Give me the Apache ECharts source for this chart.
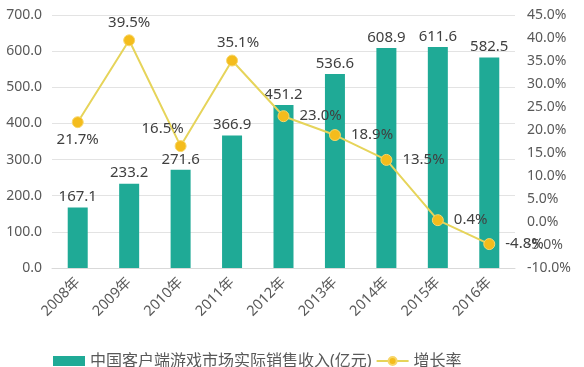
<!DOCTYPE html>
<html><head><meta charset="utf-8">
<script src="https://cdn.jsdelivr.net/npm/echarts@6/dist/echarts.min.js"></script>
<style>html,body{margin:0;padding:0;background:#fff}#c{width:584px;height:367px}</style>
</head><body><div id="c"></div>
<script>
const categories = ['2008年','2009年','2010年','2011年','2012年','2013年','2014年','2015年','2016年'];
const revenue = [167.1, 233.2, 271.6, 366.9, 451.2, 536.6, 608.9, 611.6, 582.5];
const growth = [21.7, 39.5, 16.5, 35.1, 23.0, 18.9, 13.5, 0.4, -4.8];
const growthLabelPos = ['bottom','top','top','top','right','right','right','right','right'];
const seriesNames = ['中国客户端游戏市场实际销售收入(亿元)', '增长率'];

const FONT = '"Noto Sans", "Noto Sans CJK SC", sans-serif';
const chart = echarts.init(document.getElementById('c'));
chart.setOption({
  animation: false,
  textStyle: {fontFamily: FONT},
  grid: {left: 52, right: 69, top: 15, bottom: 99},
  legend: {
    bottom: -7, left: 48, itemGap: 4, itemWidth: 32, itemHeight: 10,
    textStyle: {fontSize: 16, color: '#595959', fontFamily: FONT},
    data: [{name: seriesNames[0], icon: 'rect'}, {name: seriesNames[1]}]
  },
  xAxis: {
    type: 'category', data: categories,
    axisLine: {show: true, lineStyle: {color: '#D9D9D9'}},
    axisTick: {show: false},
    axisLabel: {rotate: 45, margin: 12, fontSize: 14.5, color: '#595959', interval: 0}
  },
  yAxis: [
    {type: 'value', min: 0, max: 700, interval: 100,
     axisLine: {show: false}, axisTick: {show: false},
     axisLabel: {fontSize: 14, color: '#595959', margin: 10, formatter: v => v.toFixed(1)},
     splitLine: {lineStyle: {color: '#E3E3E3'}}},
    {type: 'value', min: -10, max: 45, interval: 5,
     axisLine: {show: false}, axisTick: {show: false},
     axisLabel: {fontSize: 14, color: '#595959', margin: 12, formatter: v => v.toFixed(1) + '%'},
     splitLine: {show: false}}
  ],
  series: [
    {name: seriesNames[0], type: 'bar', data: revenue, barWidth: 20,
     itemStyle: {color: '#1FAA96'},
     label: {show: true, position: 'top', distance: 3, fontSize: 15, color: '#404040',
             formatter: p => p.value.toFixed(1)}},
    {name: seriesNames[1], type: 'line', yAxisIndex: 1,
     data: growth.map((v, i) => ({
       value: v,
       label: {position: growthLabelPos[i],
               distance: growthLabelPos[i] === 'right' ? 10 : 4,
               offset: i === 2 ? [-18, 0] : (i === 3 ? [6, 0] : [0, 0])}
     })),
     symbol: 'circle', symbolSize: 11,
     lineStyle: {color: '#E6D45A', width: 2},
     itemStyle: {color: '#F4BC1C', borderColor: '#F7D66A', borderWidth: 1},
     label: {show: true, fontSize: 15, color: '#404040',
             formatter: p => p.value.toFixed(1) + '%'}}
  ]
});
</script></body></html>
